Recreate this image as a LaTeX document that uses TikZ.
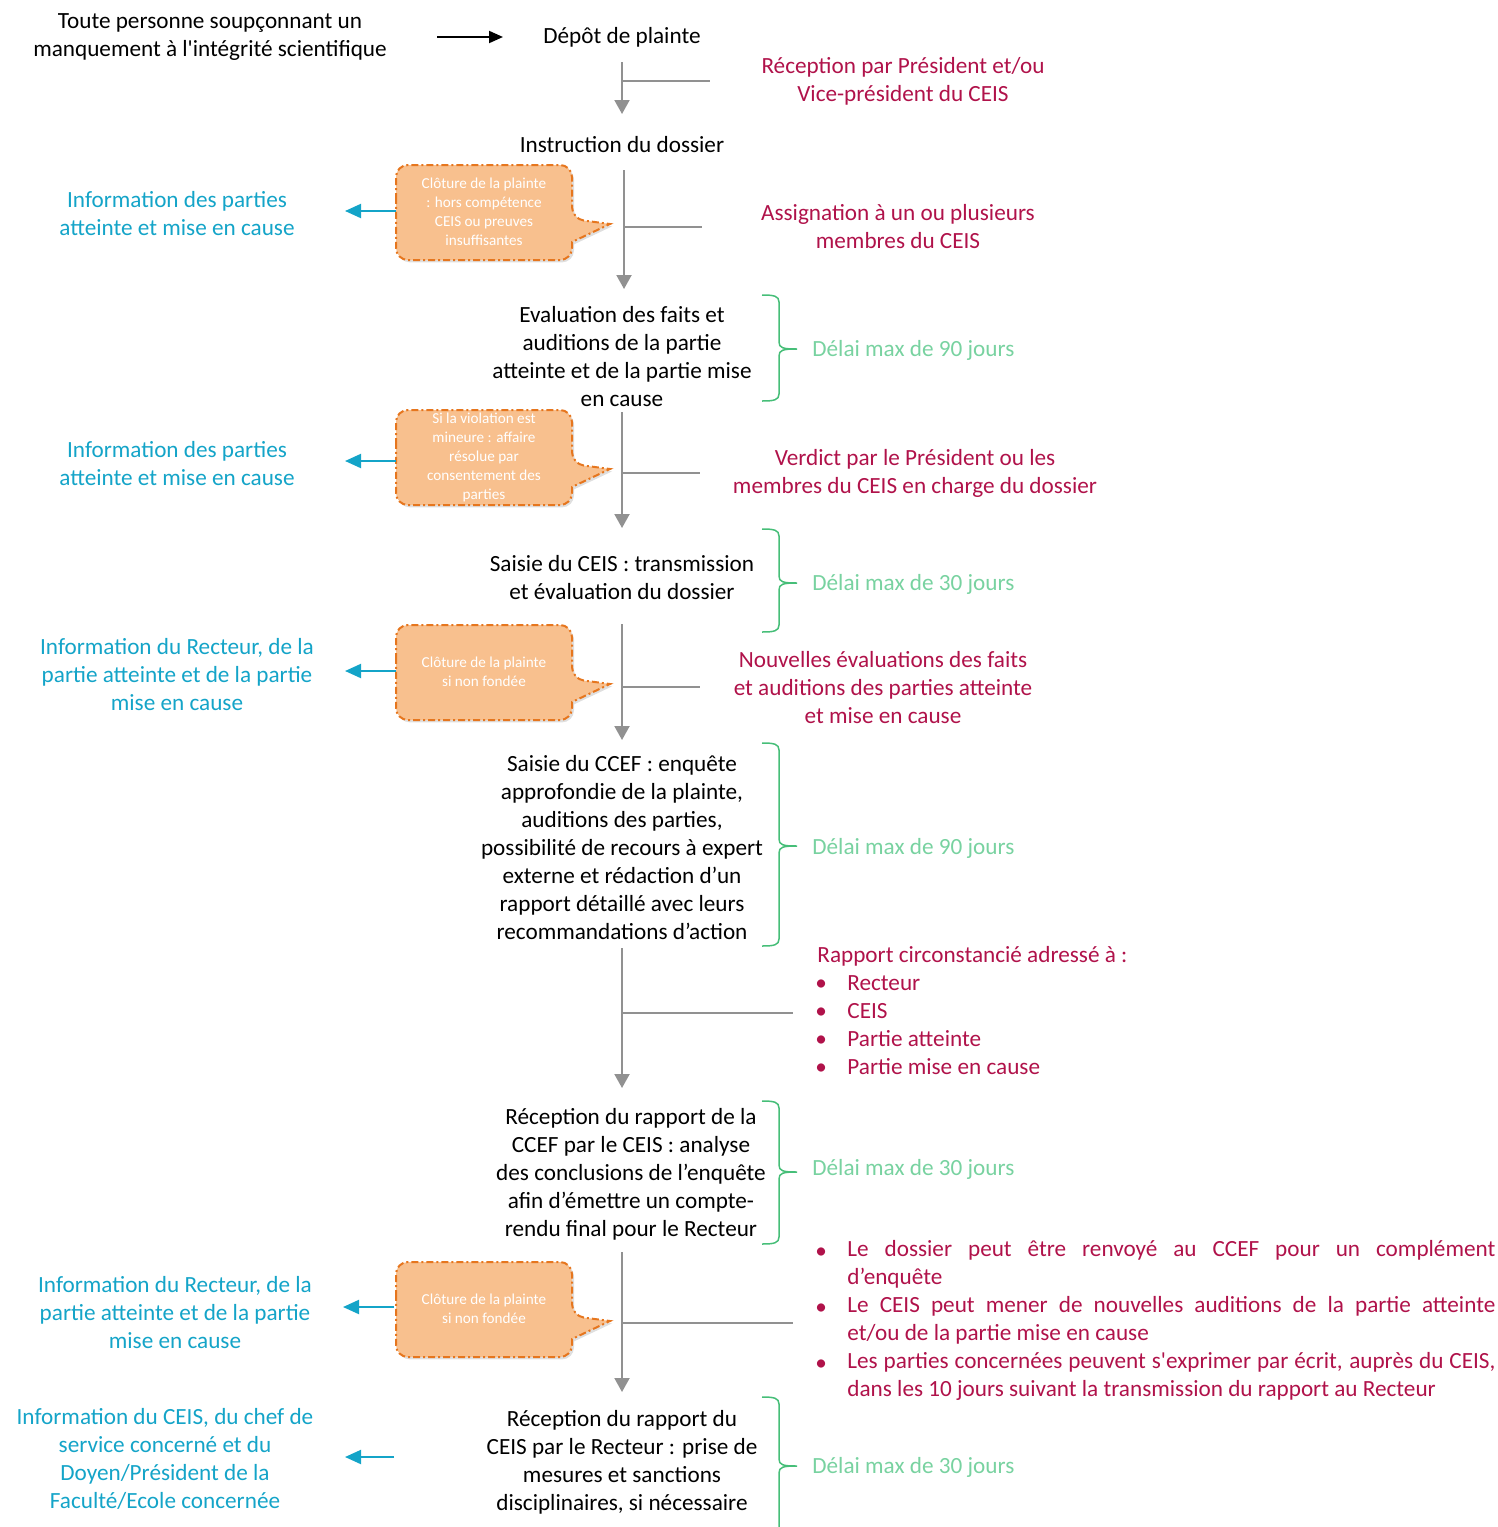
\documentclass[tikz,border=0pt]{standalone}
\usepackage{fontspec}
\setmainfont{Carlito}[Ligatures=TeXOff]
\usetikzlibrary{arrows.meta,shadows}
\definecolor{cred}{RGB}{176,18,74}
\definecolor{ccyan}{RGB}{20,164,200}
\definecolor{cgreen}{RGB}{120,210,160}
\definecolor{cbrace}{RGB}{70,190,120}
\definecolor{cgray}{RGB}{145,145,145}
\definecolor{cofill}{RGB}{248,192,142}
\definecolor{codraw}{RGB}{230,118,30}
\newcommand\mycallout[3]{%
  \draw[callout] (396,#1+47) [rounded corners=6pt] -- (396,#1) -- (572,#1) -- (572,#1+54) [sharp corners] -- (610,#1+59) -- (572,#1+77) [rounded corners=6pt] -- (572,#1+95) -- (396,#1+95) -- cycle;
  \node[cotext] (#2) at (484,#1+47) {#3};}
\newcommand\mybrace[3]{%
  \draw[bracel] (762,#1) .. controls (774,#1) and (779,#1+1) .. (779,#1+7) -- (779,#3-7) .. controls (779,#3-1) and (783,#3) .. (797,#3) .. controls (783,#3) and (779,#3+1) .. (779,#3+7) -- (779,#2-7) .. controls (779,#2-1) and (774,#2) .. (762,#2);}
\begin{document}
\begin{tikzpicture}[x=0.5pt,y=-0.5pt,
  txt/.style={font=\fontsize{11.6}{14}\selectfont, align=center, inner sep=0pt},
  redt/.style={txt, text=cred},
  cyant/.style={txt, text=ccyan},
  greent/.style={txt, text=cgreen, anchor=west},
  cotext/.style={font=\fontsize{7.6}{9.5}\selectfont, align=center, text=white, inner sep=0pt},
  callout/.style={fill=cofill, draw=codraw, line width=1pt, dash pattern=on 3.5pt off 1.5pt on 1pt off 1.5pt, drop shadow={opacity=0.25, shadow xshift=1pt, shadow yshift=-1.2pt}},
  flow/.style={draw=cgray, line width=1pt, -{Triangle[width=7.5pt,length=7pt]}},
  branch/.style={draw=cgray, line width=1pt},
  cyarrow/.style={draw=ccyan, line width=1pt, -{Triangle[width=7pt,length=8pt]}},
  blkarrow/.style={draw=black, line width=1pt, -{Triangle[width=6pt,length=7pt]}},
  bracel/.style={draw=cbrace, line width=0.75pt},
]
\useasboundingbox (0,0) rectangle (1498,1527);

% main column
\node[txt] (src) at (210,37) {Toute personne soupçonnant un\\manquement à l'intégrité scientifique};
\node[txt] (dep) at (622,37) {Dépôt de plainte};
\node[txt] (instr) at (622,145) {Instruction du dossier};
\node[txt] (eval) at (622,357) {Evaluation des faits et\\auditions de la partie\\atteinte et de la partie mise\\en cause};
\node[txt] (ceis) at (622,578) {Saisie du CEIS : transmission\\et évaluation du dossier};
\node[txt] (ccef) at (622,848) {Saisie du CCEF : enquête\\approfondie de la plainte,\\auditions des parties,\\possibilité de recours à expert\\externe et rédaction d’un\\rapport détaillé avec leurs\\recommandations d’action};
\node[txt] (recA) at (631,1174) {Réception du rapport de la\\CCEF par le CEIS : analyse\\des conclusions de l’enquête\\afin d’émettre un compte-\\rendu final pour le Recteur};
\node[txt] (recB) at (622,1462) {Réception du rapport du\\CEIS par le Recteur : prise de\\mesures et sanctions\\disciplinaires, si nécessaire};

% black arrow
\coordinate (a0s) at (437,37);
\coordinate (a0e) at (503,37);
\draw[blkarrow] (a0s) -- (a0e);

% red texts
\node[redt] (r1) at (903,81) {Réception par Président et/ou\\Vice-président du CEIS};
\node[redt] (r2) at (898,227) {Assignation à un ou plusieurs\\membres du CEIS};
\node[redt] (r3) at (915,473) {Verdict par le Président ou les\\membres du CEIS en charge du dossier};
\node[redt] (r4) at (883,688) {Nouvelles évaluations des faits\\et auditions des parties atteinte\\et mise en cause};

% flow lines
\coordinate (f1s) at (622,62);  \coordinate (f1e) at (622,114); \coordinate (b1) at (710,81);
\coordinate (f2s) at (624,170); \coordinate (f2e) at (624,289); \coordinate (b2) at (702,227);
\coordinate (f3s) at (622,412); \coordinate (f3e) at (622,528); \coordinate (b3) at (700,473);
\coordinate (f4s) at (622,624); \coordinate (f4e) at (622,740); \coordinate (b4) at (700,687);
\coordinate (f5s) at (622,948); \coordinate (f5e) at (622,1088); \coordinate (b5) at (793,1013);
\coordinate (f6s) at (622,1252); \coordinate (f6e) at (622,1392); \coordinate (b6) at (793,1323);
\foreach \i in {1,...,6}{
  \draw[flow] (f\i s) -- (f\i e);
  \draw[branch] (f\i s |- b\i) -- (b\i);
}

% callouts
\mycallout{165}{c1}{Clôture de la plainte\\: hors compétence\\CEIS ou preuves\\insuffisantes}
\mycallout{410}{c2}{Si la violation est\\mineure : affaire\\résolue par\\consentement des\\parties}
\mycallout{625}{c3}{Clôture de la plainte\\si non fondée}
\mycallout{1262}{c4}{Clôture de la plainte\\si non fondée}

% cyan texts and arrows
\node[cyant] (i1) at (177,214) {Information des parties\\atteinte et mise en cause};
\node[cyant] (i2) at (177,464) {Information des parties\\atteinte et mise en cause};
\node[cyant] (i3) at (177,675) {Information du Recteur, de la\\partie atteinte et de la partie\\mise en cause};
\node[cyant] (i4) at (175,1313) {Information du Recteur, de la\\partie atteinte et de la partie\\mise en cause};
\node[cyant] (i5) at (165,1459) {Information du CEIS, du chef de\\service concerné et du\\Doyen/Président de la\\Faculté/Ecole concernée};
\coordinate (k1) at (345,211);  \draw[cyarrow] (396,211) -- (k1);
\coordinate (k2) at (345,461);  \draw[cyarrow] (396,461) -- (k2);
\coordinate (k3) at (345,671);  \draw[cyarrow] (396,671) -- (k3);
\coordinate (k4) at (343,1307); \draw[cyarrow] (394,1307) -- (k4);
\coordinate (k5) at (345,1457); \draw[cyarrow] (394,1457) -- (k5);

% braces and delays
\mybrace{295}{401}{349}
\mybrace{529}{632}{583}
\mybrace{743}{946}{846}
\mybrace{1101}{1244}{1172}
\mybrace{1397}{1545}{1466}
\node[greent] (d1) at (812,350) {Délai max de 90 jours};
\node[greent] (d2) at (812,584) {Délai max de 30 jours};
\node[greent] (d3) at (812,848) {Délai max de 90 jours};
\node[greent] (d4) at (812,1169) {Délai max de 30 jours};
\node[greent] (d5) at (812,1467) {Délai max de 30 jours};

% rapport list
\begin{scope}[every node/.style={txt, text=cred, anchor=base west}]
\node (rl0) at (817,962) {Rapport circonstancié adressé à :};
\foreach \y/\t [count=\n] in {990/Recteur,1018/CEIS,1046/Partie atteinte,1074/Partie mise en cause}{
  \node (rb\n) at (815,\y) {•};
  \node (rt\n) at (847,\y) {\t};
}
\end{scope}

% final bullet list
\begin{scope}[every node/.style={txt, text=cred, anchor=base west}]
\node (lb1) at (815,1258) {•};
\node (lb2) at (815,1314) {•};
\node (lb3) at (815,1370) {•};
\end{scope}
\begin{scope}[every node/.style={font=\fontsize{11.6}{14}\selectfont, text=cred, inner sep=0pt, anchor=north west, text width=324pt, align=justify}]
\node (lt1) at (847,1240) {\hfuzz=20pt Le dossier peut être renvoyé au CCEF pour un complément\linebreak d’enquête};
\node (lt2) at (847,1296) {\hfuzz=20pt Le CEIS peut mener de nouvelles auditions de la partie atteinte\linebreak et/ou de la partie mise en cause};
\end{scope}
\node[font=\fontsize{11.6}{14}\selectfont, text=cred, inner sep=0pt, anchor=north west, align=left] (lt3) at (847,1352) {\hfuzz=20pt\spaceskip=0.16em plus 0.05em minus 0.03em\hbox to 324pt{Les parties concernées peuvent s'exprimer par écrit, auprès du CEIS,}\\dans les 10 jours suivant la transmission du rapport au Recteur};
\end{tikzpicture}
\end{document}
